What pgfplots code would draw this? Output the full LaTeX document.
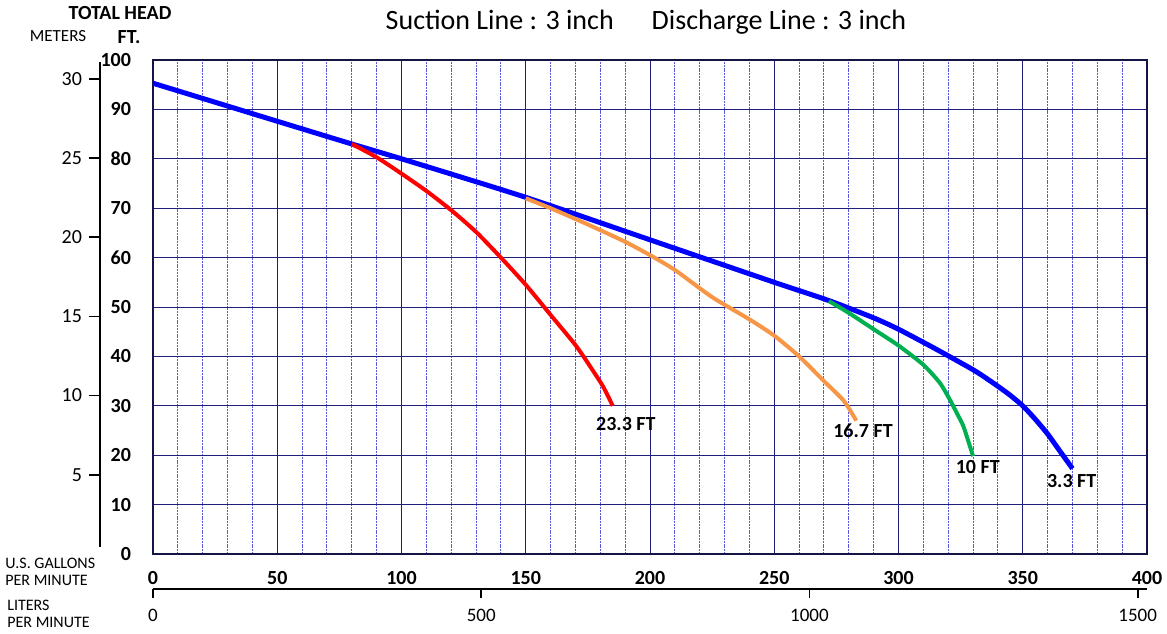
\documentclass[border=0pt]{standalone}
\usepackage{fontspec}
\setmainfont{Carlito}
\usepackage{pgfplots}
\pgfplotsset{compat=1.18}
\definecolor{gridnavy}{RGB}{32,32,128}
\definecolor{minorblue}{RGB}{90,90,225}
\definecolor{framecol}{RGB}{20,20,70}
\definecolor{cblue}{RGB}{0,0,255}
\definecolor{cred}{RGB}{255,0,0}
\definecolor{corange}{RGB}{247,150,70}
\definecolor{cgreen}{RGB}{0,176,80}
\begin{document}
\begin{tikzpicture}
\useasboundingbox (-76.5pt,-39.5pt) rectangle (507pt,277pt);
\begin{axis}[
  at={(0pt,0pt)}, anchor=south west, scale only axis,
  width=497pt, height=247pt,
  xmin=0, xmax=400, ymin=0, ymax=100,
  xtick={0,50,...,400}, ytick={0,10,...,100},
  minor x tick num=4,
  xmajorgrids, ymajorgrids, xminorgrids,
  major grid style={gridnavy, line width=0.5pt},
  minor grid style={minorblue, dash pattern=on 1pt off 0.4pt, line width=0.5pt},
  axis line style={framecol, line width=1.2pt},
  major tick length=0pt, minor tick length=0pt,
  xtick pos=left, ytick pos=left,
  /pgf/number format/assume math mode=true,
  ticklabel style={font=\fontsize{10}{12}\selectfont\bfseries},
  xticklabel style={yshift=-5pt},
  yticklabel style={xshift=-7.5pt},
]
\addplot[cblue, line width=2.5pt, line join=round, smooth, tension=0.4] coordinates {
 (0,95.3) (50,87.6) (80,83) (100,80) (150,72.2) (200,63.6) (250,55) (272,51.3)
 (290,47.8) (300,45.5) (315,41.5) (330,37.3) (337,35) (344,32.5) (350,30) (355,27.3) (360,24.3) (365,20.8) (370,17.3)};
\addplot[cred, line width=2pt, line join=round, smooth, tension=0.4] coordinates {
 (80,83) (90,80.3) (100,77) (110,73.5) (120,69.6) (130,65.2) (140,60) (150,54.5)
 (160,48.4) (170,42.3) (176,37.9) (181,34) (185,30)};
\addplot[corange, line width=2pt, line join=round, smooth, tension=0.4] coordinates {
 (150,72) (160,70) (175,66.7) (190,63.2) (200,60.5) (210,57.5) (225,52) (240,47.5)
 (250,44.2) (260,40) (270,35) (278,31) (283,27)};
\addplot[cgreen, line width=2pt, line join=round, smooth, tension=0.4] coordinates {
 (272,51.2) (280,48.8) (290,45.5) (300,42.2) (310,38.3) (316.7,34.6) (320.7,31.2) (323.5,28.5) (326,26) (328,23) (330,19.8)};
\node[font=\fontsize{10}{12}\selectfont\bfseries] at (axis cs:190.3,26.3) {23.3 FT};
\node[font=\fontsize{10}{12}\selectfont\bfseries] at (axis cs:285.7,25) {16.7 FT};
\node[font=\fontsize{10}{12}\selectfont\bfseries] at (axis cs:331.9,17.6) {10 FT};
\node[font=\fontsize{10}{12}\selectfont\bfseries] at (axis cs:369.7,14.8) {3.3 FT};
\end{axis}
% meters axis
\begin{axis}[
  at={(-26.5pt,3.5pt)}, anchor=south west, scale only axis,
  width=10pt, height=242.5pt,
  xmin=0, xmax=1, ymin=0.44, ymax=31.06,
  axis y line=left, axis x line=none,
  y axis line style={-, black, line width=1pt},
  ytick={5,10,...,30},
  tick align=outside, major tick length=5.5pt,
  tick style={black, line width=0.8pt},
  /pgf/number format/assume math mode=true,
  yticklabel style={font=\fontsize{10}{12}\selectfont},
]
\addplot[draw=none] coordinates {(0,1) (1,30)};
\end{axis}
% liters axis
\begin{axis}[
  at={(0pt,-17.5pt)}, anchor=south west, scale only axis,
  width=497pt, height=10pt,
  xmin=0, xmax=1514.16, ymin=0, ymax=1,
  axis x line=bottom, axis y line=none,
  x axis line style={-, black, line width=1pt},
  xtick={0,500,1000,1500},
  tick align=outside, major tick length=4.5pt,
  tick style={black, line width=0.8pt},
  /pgf/number format/assume math mode=true,
  /pgf/number format/1000 sep={},
  xticklabel style={font=\fontsize{9.5}{11}\selectfont, yshift=-2pt},
]
\addplot[draw=none] coordinates {(0,0) (1500,1)};
\end{axis}
\node[font=\fontsize{14}{16}\selectfont] at (246.5pt,266pt) {Suction Line : 3 inch\hspace{19pt}Discharge Line : 3 inch};
\node[font=\fontsize{10}{12}\selectfont\bfseries] at (-16.5pt,270.5pt) {TOTAL HEAD};
\node[font=\fontsize{10}{12}\selectfont\bfseries] at (-12pt,258.5pt) {FT.};
\node[font=\fontsize{8.5}{10}\selectfont] at (-47.5pt,259pt) {METERS};
\node[font=\fontsize{8}{9}\selectfont, anchor=west, inner sep=0pt] at (-74pt,-4.5pt) {U.S. GALLONS};
\node[font=\fontsize{8}{9}\selectfont, anchor=west, inner sep=0pt] at (-74pt,-13pt) {PER MINUTE};
\node[font=\fontsize{8}{9}\selectfont, anchor=west, inner sep=0pt] at (-73pt,-25.5pt) {LITERS};
\node[font=\fontsize{8}{9}\selectfont, anchor=west, inner sep=0pt] at (-73pt,-34pt) {PER MINUTE};
\end{tikzpicture}
\end{document}
